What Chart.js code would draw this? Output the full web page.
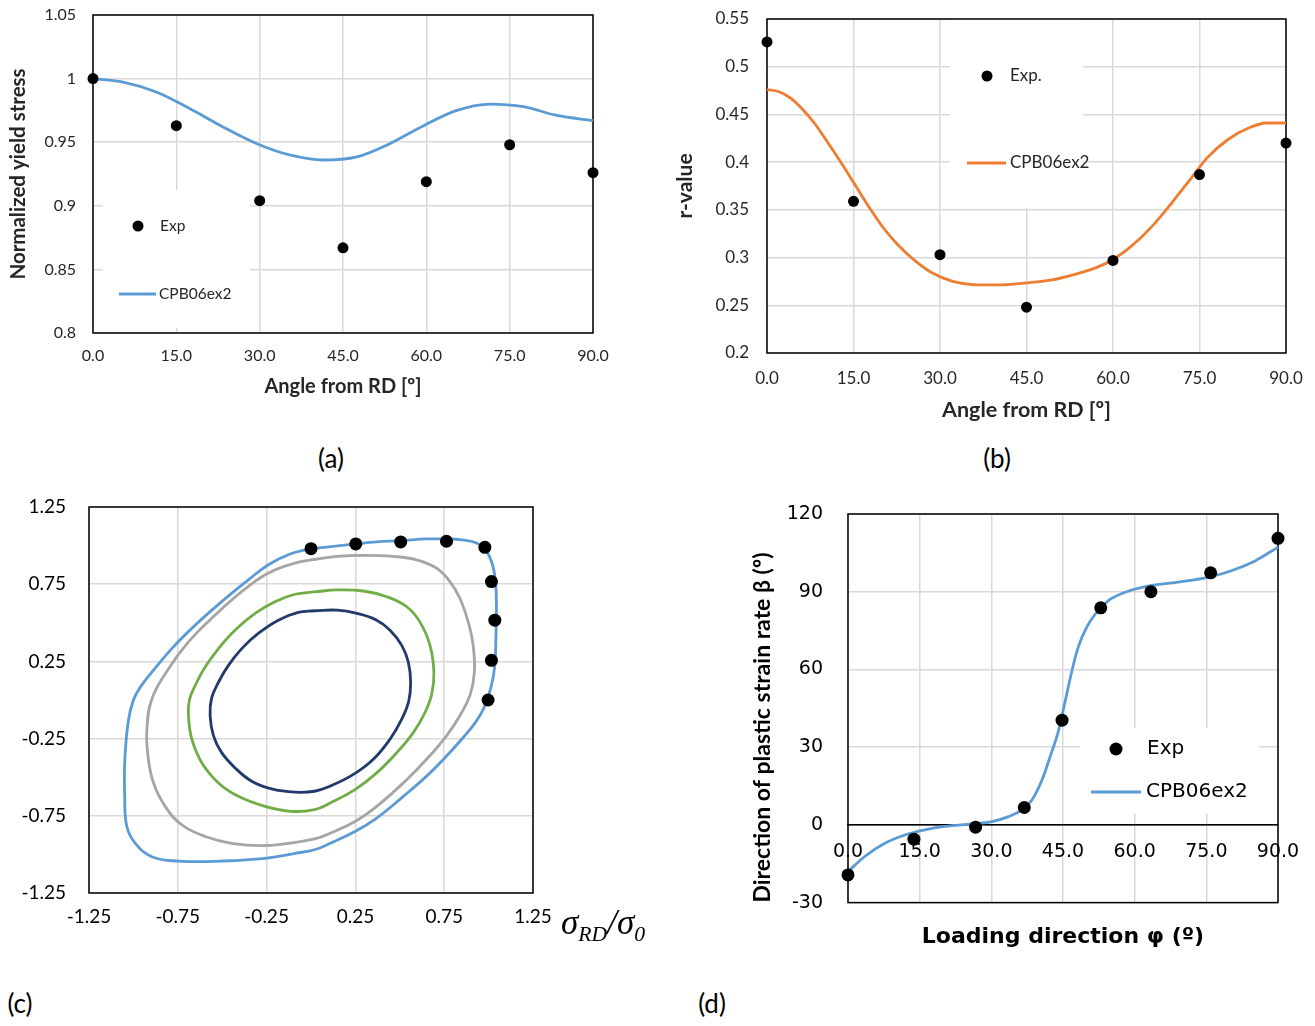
<!DOCTYPE html>
<html><head><meta charset="utf-8">
<script src="https://cdn.jsdelivr.net/npm/chart.js@4.4.1/dist/chart.umd.min.js"></script>
<style>
html,body{margin:0;padding:0;background:#fff;}
body{width:1315px;height:1026px;position:relative;overflow:hidden;font-family:Lato,sans-serif;}
.panel{position:absolute;}
.lbl{position:absolute;font:26px Lato,sans-serif;color:#000;transform:translate(-50%,-50%);white-space:nowrap;}
.sig{position:absolute;left:561px;top:906px;font:italic 35px "Liberation Serif",serif;line-height:34px;color:#000;white-space:nowrap;}
.sig sub{font-size:0.62em;vertical-align:-0.3em;}
</style></head><body>
<div class="panel" style="left:0;top:0;width:620px;height:420px"><canvas id="ca"></canvas></div>
<div class="panel" style="left:660px;top:0;width:655px;height:440px"><canvas id="cb"></canvas></div>
<div class="panel" style="left:0;top:490px;width:660px;height:470px"><canvas id="cc"></canvas></div>
<div class="panel" style="left:690px;top:490px;width:625px;height:470px"><canvas id="cd"></canvas></div>
<div class="lbl" style="left:331px;top:458px">(a)</div>
<div class="lbl" style="left:997px;top:458px">(b)</div>
<div class="lbl" style="left:20px;top:1003px">(c)</div>
<div class="lbl" style="left:712px;top:1003px">(d)</div>
<div class="sig">σ<sub>RD</sub>/σ<sub>0</sub></div>
<script>
// ---------- Panel (a): normalized yield stress ----------
const angleA = [0, 15, 30, 45, 60, 75, 90];
const expYieldA = [1.0, 0.963, 0.904, 0.867, 0.919, 0.948, 0.926];
const fitAngleA = [0, 5.4, 11.4, 17.4, 23.4, 29.4, 35.4, 41.4, 47.5, 53.5, 59.5, 65.5, 71.5, 77.5, 83.5, 90];
const fitYieldA = [1.0, 0.9973, 0.9895, 0.9765, 0.962, 0.949, 0.940, 0.936, 0.9385, 0.949, 0.963, 0.975, 0.980, 0.978, 0.971, 0.967];

// ---------- Panel (b): r-value ----------
const angleB = [0, 15, 30, 45, 60, 75, 90];
const expRB = [0.526, 0.359, 0.303, 0.248, 0.297, 0.387, 0.420];
const fitAngleB = [0, 2, 4.1, 5.9, 8.2, 10.6, 13, 15.4, 17.8, 20.2, 22.6, 25.6, 28.6, 32.2, 35.7, 39.9, 44.1, 48.9, 53.7, 57.3, 60, 63.2, 66.8, 70.4, 73.4, 76.4, 80, 83.6, 86.6, 90];
const fitRB = [0.476, 0.474, 0.467, 0.457, 0.441, 0.420, 0.398, 0.375, 0.352, 0.331, 0.314, 0.297, 0.284, 0.275, 0.2717, 0.2713, 0.273, 0.276, 0.283, 0.290, 0.298, 0.312, 0.333, 0.359, 0.382, 0.405, 0.424, 0.436, 0.441, 0.441];

// ---------- Panel (c): yield loci ----------
const expSxC = [0.0, 0.252, 0.505, 0.763, 0.979, 1.016, 1.035, 1.016, 0.997];
const expSyC = [0.980, 1.011, 1.024, 1.028, 0.989, 0.767, 0.517, 0.257, 0.0];
const blueSx = [-0.004, -0.128, -0.240, -0.353, -0.503, -0.652, -0.784, -0.896, -0.960, -1.000, -1.030, -1.049, -1.049, -1.037, -0.989, -0.896, -0.746, -0.503, -0.259, -0.090, 0.02, 0.108, 0.248, 0.370, 0.520, 0.651, 0.763, 0.857, 0.932, 0.979, 1.016, 1.035, 1.041, 1.044, 1.039, 1.022, 0.988, 0.932, 0.838, 0.763, 0.651, 0.505, 0.370, 0.252, 0.126, -0.004];
const blueSy = [0.980, 0.941, 0.876, 0.778, 0.637, 0.485, 0.333, 0.180, 0.085, 0.0, -0.146, -0.406, -0.624, -0.819, -0.928, -1.015, -1.043, -1.043, -1.026, -0.993, -0.970, -0.928, -0.852, -0.765, -0.624, -0.493, -0.363, -0.243, -0.135, -0.037, 0.094, 0.224, 0.398, 0.615, 0.767, 0.876, 0.963, 1.017, 1.039, 1.043, 1.043, 1.032, 1.024, 1.011, 0.995, 0.980];
const graySx = [0.02, -0.090, -0.240, -0.390, -0.540, -0.690, -0.802, -0.895, -0.924, -0.918, -0.887, -0.821, -0.728, -0.596, -0.447, -0.278, -0.128, 0.02, 0.108, 0.248, 0.370, 0.520, 0.651, 0.763, 0.838, 0.895, 0.920, 0.913, 0.885, 0.838, 0.782, 0.707, 0.595, 0.463, 0.295, 0.146, 0.02];
const graySy = [0.910, 0.887, 0.822, 0.702, 0.550, 0.376, 0.202, 0.01, -0.189, -0.363, -0.537, -0.689, -0.808, -0.884, -0.928, -0.943, -0.928, -0.900, -0.863, -0.787, -0.689, -0.537, -0.384, -0.232, -0.102, 0.03, 0.180, 0.354, 0.506, 0.659, 0.767, 0.854, 0.908, 0.930, 0.937, 0.930, 0.910];
const greenSx = [0.02, -0.090, -0.203, -0.315, -0.428, -0.521, -0.596, -0.652, -0.685, -0.690, -0.671, -0.615, -0.521, -0.409, -0.259, -0.110, 0.02, 0.108, 0.248, 0.370, 0.483, 0.576, 0.642, 0.680, 0.692, 0.670, 0.613, 0.539, 0.426, 0.295, 0.146, 0.02];
const greenSy = [0.700, 0.685, 0.637, 0.561, 0.452, 0.333, 0.213, 0.094, 0.0, -0.102, -0.254, -0.406, -0.537, -0.624, -0.689, -0.721, -0.710, -0.667, -0.580, -0.472, -0.341, -0.211, -0.081, 0.04, 0.180, 0.354, 0.506, 0.604, 0.669, 0.706, 0.713, 0.700];
const navySx = [0.02, -0.072, -0.184, -0.297, -0.390, -0.465, -0.521, -0.56, -0.568, -0.549, -0.503, -0.428, -0.334, -0.222, -0.090, 0.02, 0.108, 0.239, 0.351, 0.445, 0.511, 0.55, 0.561, 0.548, 0.511, 0.445, 0.370, 0.258, 0.146, 0.02];
const navySy = [0.578, 0.567, 0.517, 0.431, 0.333, 0.224, 0.115, 0.01, -0.102, -0.232, -0.341, -0.439, -0.526, -0.576, -0.597, -0.591, -0.558, -0.482, -0.384, -0.254, -0.124, -0.01, 0.115, 0.245, 0.354, 0.452, 0.517, 0.561, 0.582, 0.578];

// ---------- Panel (d): direction of plastic strain rate ----------
const expPhiD = [0, 13.8, 26.7, 36.9, 44.8, 52.9, 63.4, 75.9, 90];
const expBetaD = [-19.3, -5.5, -0.9, 6.7, 40.4, 83.8, 90.0, 97.3, 110.6];
const fitPhiD = [0, 3.5, 7.7, 11.9, 16.1, 20.3, 25.9, 30.1, 33.6, 36.4, 38.5, 40.6, 42.3, 44.1, 45.5, 46.9, 48.2, 50.0, 51.8, 54.5, 58.0, 62.2, 69.2, 75.5, 80.4, 85.3, 90];
const fitBetaD = [-18.0, -12.2, -7.1, -3.9, -1.9, -0.6, 0.4, 1.3, 3.2, 5.8, 9.6, 17.3, 26.3, 36.6, 48.1, 59.7, 68.7, 76.4, 81.5, 86.6, 89.8, 92.0, 93.7, 95.6, 98.2, 102.0, 107.2];

// ---------- helpers ----------
const zip = (xs, ys) => xs.map((x, i) => ({x: x, y: ys[i]}));
const GRID = '#D9D9D9';
const BLUE = '#5B9BD5', ORANGE = '#ED7D31', GRAY = '#A5A5A5', GREEN = '#70AD47', NAVY = '#22396B';

function framePlugin(legend) {
  return {
    id: 'frameLegend',
    beforeDatasetsDraw(chart) {
      const {ctx, chartArea: a} = chart;
      ctx.save();
      if (legend) {
        const b = legend.box;
        ctx.fillStyle = '#fff';
        ctx.fillRect(a.left + b[0], a.top + b[1], b[2] - b[0], b[3] - b[1]);
      }
      ctx.strokeStyle = '#000';
      ctx.lineWidth = 1.5;
      ctx.strokeRect(a.left, a.top, a.right - a.left, a.bottom - a.top);
      ctx.restore();
    },
    afterDatasetsDraw(chart) {
      if (!legend) return;
      const {ctx, chartArea: a} = chart;
      ctx.save();
      ctx.font = legend.font;
      ctx.textBaseline = 'middle';
      ctx.textAlign = 'left';
      legend.items.forEach(it => {
        const ds = chart.data.datasets[it.ds];
        if (it.type === 'point') {
          ctx.beginPath();
          ctx.arc(a.left + it.x, a.top + it.y, ds.pointRadius, 0, Math.PI * 2);
          ctx.fillStyle = ds.pointBackgroundColor;
          ctx.fill();
        } else {
          ctx.beginPath();
          ctx.moveTo(a.left + it.x1, a.top + it.y);
          ctx.lineTo(a.left + it.x2, a.top + it.y);
          ctx.strokeStyle = ds.borderColor;
          ctx.lineWidth = ds.borderWidth;
          ctx.stroke();
        }
        ctx.fillStyle = legend.color;
        ctx.fillText(ds.label, a.left + it.tx, a.top + it.y);
      });
      ctx.restore();
    }
  };
}

function expSet(label, data, r) {
  return {label: label, data: data, showLine: false, pointRadius: r, pointHoverRadius: r,
    pointBackgroundColor: '#000', pointBorderColor: '#000', pointBorderWidth: 0, clip: false};
}
function lineSet(label, data, color, mono) {
  const d = {label: label, data: data, showLine: true, pointRadius: 0, borderColor: color,
    backgroundColor: color, borderWidth: 2.8, fill: false, clip: false};
  if (mono) d.cubicInterpolationMode = 'monotone'; else d.tension = 0.42;
  return d;
}
const base = {responsive: true, maintainAspectRatio: false, animation: false, devicePixelRatio: 1,
  events: []};
const fmt2 = v => String(Number(v.toFixed(2)));
// fix an axis' box size and drop the automatic edge padding so the plot area lands where the layout says
const fixY = w => s => { s.width = w; s.paddingTop = 0; s.paddingBottom = 0; };
const fixX = h => s => { if (h) s.height = h; s.paddingLeft = 0; s.paddingRight = 0; };

// ---------- Chart (a) ----------
new Chart(document.getElementById('ca'), {
  type: 'scatter',
  data: {datasets: [
    expSet('Exp', zip(angleA, expYieldA), 5.5),
    lineSet('CPB06ex2', zip(fitAngleA, fitYieldA), BLUE, true)
  ]},
  options: Object.assign({}, base, {
    layout: {padding: {top: 15, right: 27, left: 0, bottom: 0}},
    plugins: {legend: {display: false}, tooltip: {enabled: false}},
    scales: {
      x: {type: 'linear', min: 0, max: 90,
        ticks: {stepSize: 15, callback: v => v.toFixed(1), font: {family: 'Lato', size: 16}, color: '#262626', padding: 13, maxRotation: 0, autoSkip: false},
        grid: {color: GRID, lineWidth: 1.5, drawTicks: false}, border: {display: false},
        title: {display: true, text: 'Angle from RD [º]', font: {family: 'Lato', size: 20, weight: 'bold'}, color: '#262626', padding: {top: 0, bottom: 21}},
        afterFit: fixX(87)},
      y: {type: 'linear', min: 0.8, max: 1.05,
        ticks: {stepSize: 0.05, callback: fmt2, font: {family: 'Lato', size: 16}, color: '#262626', padding: 17},
        grid: {color: GRID, lineWidth: 1.5, drawTicks: false}, border: {display: false},
        title: {display: true, text: 'Normalized yield stress', font: {family: 'Lato', size: 20.5, weight: 'bold'}, color: '#262626', padding: {top: 6, bottom: 0}},
        afterFit: fixY(93)}
    }
  }),
  plugins: [framePlugin({
    box: [10, 175, 157, 313], font: '15.5px Lato', color: '#262626',
    items: [{ds: 0, type: 'point', x: 45, y: 211, tx: 67}, {ds: 1, type: 'line', x1: 26, x2: 63, y: 279, tx: 66}]
  })]
});

// ---------- Chart (b) ----------
new Chart(document.getElementById('cb'), {
  type: 'scatter',
  data: {datasets: [
    expSet('Exp.', zip(angleB, expRB), 5.5),
    lineSet('CPB06ex2', zip(fitAngleB, fitRB), ORANGE, true)
  ]},
  options: Object.assign({}, base, {
    layout: {padding: {top: 19, right: 29, left: 0, bottom: 0}},
    plugins: {legend: {display: false}, tooltip: {enabled: false}},
    scales: {
      x: {type: 'linear', min: 0, max: 90,
        ticks: {stepSize: 15, callback: v => v.toFixed(1), font: {family: 'Lato', size: 17}, color: '#262626', padding: 15, maxRotation: 0, autoSkip: false},
        grid: {color: GRID, lineWidth: 1.5, drawTicks: false}, border: {display: false},
        title: {display: true, text: 'Angle from RD [º]', font: {family: 'Lato', size: 21.5, weight: 'bold'}, color: '#262626', padding: {top: 0, bottom: 17}},
        afterFit: fixX(87)},
      y: {type: 'linear', min: 0.2, max: 0.55,
        ticks: {stepSize: 0.05, callback: fmt2, font: {family: 'Lato', size: 17}, color: '#262626', padding: 18},
        grid: {color: GRID, lineWidth: 1.5, drawTicks: false}, border: {display: false},
        title: {display: true, text: 'r-value', font: {family: 'Lato', size: 21, weight: 'bold'}, color: '#262626', padding: {top: 13, bottom: 0}},
        afterFit: fixY(107)}
    }
  }),
  plugins: [framePlugin({
    box: [183, 0, 316, 189], font: '17px Lato', color: '#262626',
    items: [{ds: 0, type: 'point', x: 220, y: 57, tx: 243}, {ds: 1, type: 'line', x1: 200, x2: 239, y: 144, tx: 243}]
  })]
});

// ---------- Chart (c) ----------
new Chart(document.getElementById('cc'), {
  type: 'scatter',
  data: {datasets: [
    expSet('Exp', zip(expSxC, expSyC), 6.5),
    lineSet('CPB06ex2', zip(blueSx, blueSy), BLUE, false),
    lineSet('Locus 2', zip(graySx, graySy), GRAY, false),
    lineSet('Locus 3', zip(greenSx, greenSy), GREEN, false),
    lineSet('Locus 4', zip(navySx, navySy), NAVY, false)
  ]},
  options: Object.assign({}, base, {
    layout: {padding: {top: 17, right: 127, left: 0, bottom: 0}},
    plugins: {legend: {display: false}, tooltip: {enabled: false}},
    scales: {
      x: {type: 'linear', min: -1.25, max: 1.25,
        ticks: {stepSize: 0.5, callback: v => v.toFixed(2), font: {family: 'Lato', size: 19}, color: '#000', padding: 12, maxRotation: 0, autoSkip: false},
        grid: {color: GRID, lineWidth: 1.5, drawTicks: false}, border: {display: false},
        afterFit: fixX(67)},
      y: {type: 'linear', min: -1.25, max: 1.25,
        ticks: {stepSize: 0.5, callback: v => v.toFixed(2), font: {family: 'Lato', size: 19}, color: '#000', padding: 23},
        grid: {color: GRID, lineWidth: 1.5, drawTicks: false}, border: {display: false},
        afterFit: fixY(89)}
    }
  }),
  plugins: [framePlugin(null)]
});

// ---------- Chart (d) ----------
new Chart(document.getElementById('cd'), {
  type: 'scatter',
  data: {datasets: [
    expSet('Exp', zip(expPhiD, expBetaD), 6.5),
    lineSet('CPB06ex2', zip(fitPhiD, fitBetaD), BLUE, true)
  ]},
  options: Object.assign({}, base, {
    layout: {padding: {top: 24, right: 37, left: 0, bottom: 0}},
    plugins: {legend: {display: false}, tooltip: {enabled: false},
      title: {display: true, position: 'bottom', fullSize: false, text: 'Loading direction φ (º)',
        font: {family: 'DejaVu Sans', size: 22, weight: 'bold'}, color: '#000', padding: {top: 21, bottom: 10}}},
    scales: {
      x: {type: 'linear', min: 0, max: 90, position: {y: 0},
        ticks: {stepSize: 15, callback: v => v.toFixed(1), font: {family: 'DejaVu Sans', size: 19}, color: '#000', padding: 16, maxRotation: 0, autoSkip: false},
        grid: {color: GRID, lineWidth: 1.5, drawTicks: false}, border: {display: true, color: '#000', width: 1.3},
        afterFit: fixX(0)},
      y: {type: 'linear', min: -30, max: 120,
        ticks: {stepSize: 30, font: {family: 'DejaVu Sans', size: 19}, color: '#000', padding: 25},
        grid: {color: c => (c.tick && c.tick.value === 0 ? '#000' : GRID), lineWidth: 1.5, drawTicks: false}, border: {display: false},
        title: {display: true, align: 'start', text: 'Direction of plastic strain rate β (º)', font: {family: 'Lato', size: 23, weight: 'bold'}, color: '#000', padding: {top: 59, bottom: 0}},
        afterFit: fixY(158)}
    }
  }),
  plugins: [framePlugin({
    box: [232, 214, 411, 300], font: '20px "DejaVu Sans"', color: '#000',
    items: [{ds: 0, type: 'point', x: 268, y: 235, tx: 299}, {ds: 1, type: 'line', x1: 243, x2: 293, y: 278, tx: 298}]
  })]
});
</script>
</body></html>
